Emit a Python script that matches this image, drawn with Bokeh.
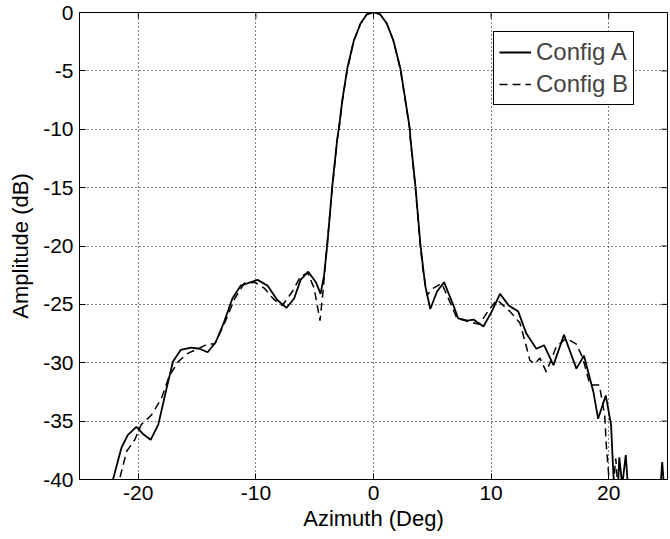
import math
from bokeh.plotting import figure
from bokeh.models import FixedTicker, Legend, LegendItem, Range1d
from bokeh.embed import file_html
from bokeh.resources import INLINE

# ---- data ----
az_a = [-22.5, -22.15, -21.44, -20.9, -20.17, -19.6, -18.95, -18.3, -17.6, -17.05, -16.4,
        -15.5, -14.8, -14.1, -13.4, -12.7, -12.0, -11.3, -9.86, -9.0, -8.2, -7.4, -6.75,
        -6.2, -5.55, -4.9, -4.5, -4.2, -3.92, -3.5, -3.08, -2.94, -2.65, -2.23, -1.67, -1.1,
        -0.56, 0.0, 0.56, 1.13, 1.69, 2.29, 2.71, 3.08, 3.14, 3.56, 3.98, 4.4, 4.83, 5.4,
        6.0, 6.8, 7.2, 8.0, 8.5, 9.35, 10.06, 10.76, 11.5, 12.3, 13.0, 13.85, 14.5, 15.3,
        16.2, 17.25, 17.9, 18.7, 19.1, 19.75, 20.2, 20.4, 20.6, 20.75, 20.9, 21.15, 21.45,
        21.7, 24.3, 24.55, 24.8]
amp_a = [-43, -40, -37.3, -36.2, -35.5, -36.1, -36.6, -35.3, -32.2, -29.9, -28.9,
         -28.7, -28.8, -29.1, -28.2, -26.5, -24.5, -23.4, -22.9, -23.4, -24.6, -25.3, -24.5,
         -22.9, -22.2, -23.1, -24.1, -22.5, -19.8, -14.8, -10.8, -9.9, -7.5, -4.8, -2.4, -0.94,
         -0.15, 0.0, -0.15, -0.94, -2.4, -4.8, -7.5, -9.9, -10.8, -14.8, -19.8, -23.4, -25.4, -23.9,
         -23.1, -25.1, -26.2, -26.4, -26.3, -26.9, -25.6, -24.1, -25.1, -25.6, -27.5, -28.8, -28.5, -30.2,
         -27.6, -30.5, -29.4, -32.5, -34.8, -32.8, -35.3, -39.6, -42.0, -41.5, -38.1, -40.5, -37.9,
         -41.5, -42.0, -38.5, -42.0]

az_b = [-21.9, -21.6, -21.0, -20.3, -19.75, -18.9, -18.05, -17.35, -16.6, -15.8, -14.9,
        -14.1, -13.5, -12.7, -11.8, -11.0, -10.1, -9.3, -8.45, -7.75, -6.9, -6.2, -5.6, -5.05,
        -4.55, -4.3, -4.05, -3.5, -3.08, -2.94, -2.65, -2.23, -1.67, -1.1, -0.56, 0.0, 0.56,
        1.13, 1.69, 2.29, 2.71, 3.08, 3.14, 3.56, 3.98, 4.2, 4.55, 5.1, 5.8, 6.5, 7.1, 8.2,
        9.0, 9.8, 10.5, 11.6, 12.45, 12.97, 13.3, 13.7, 14.15, 14.7, 15.55, 16.4, 17.25, 17.8,
        18.4, 19.2, 19.66, 19.8, 20.0, 20.15, 20.4, 20.6, 20.8]
amp_b = [-42, -40, -37.6, -36.6, -35.3, -34.5, -33.1, -31.1, -29.9, -29.2, -28.8,
         -28.4, -28.4, -26.7, -24.5, -23.2, -23.1, -23.6, -24.6, -25.1, -23.9, -22.6, -22.3, -23.6,
         -26.4, -24.0, -21.0, -15.0, -10.9, -10.0, -7.6, -4.9, -2.4, -0.95, -0.15, 0.0, -0.15,
         -0.95, -2.4, -4.9, -7.6, -10.0, -10.9, -15.0, -20.0, -22.0, -24.2, -23.6, -23.2, -24.8, -26.2, -26.5,
         -26.7, -25.5, -24.6, -25.6, -26.6, -28.5, -29.8, -30.1, -29.6, -30.8, -28.6, -27.9, -28.4, -29.6,
         -31.9, -31.9, -34.5, -37.1, -39.6, -42.0, -40.5, -38.2, -41.0]

x_ticks = [-20, -10, 0, 10, 20]
x_tick_labels = ["-20", "-10", "0", "10", "20"]
y_ticks = [-40, -35, -30, -25, -20, -15, -10, -5, 0]
y_tick_labels = ["-40", "-35", "-30", "-25", "-20", "-15", "-10", "-5", "0"]
label_a = "Config A"
label_b = "Config B"
x_title = "Azimuth (Deg)"
y_title = "Amplitude (dB)"
X_MIN, X_MAX = -25, 25
Y_MIN, Y_MAX = -40, 0

FONT = "Liberation Sans"

p = figure(frame_width=588, frame_height=467, output_backend="svg", toolbar_location=None,
           x_range=Range1d(X_MIN, X_MAX), y_range=Range1d(Y_MIN, Y_MAX),
           min_border_left=79, min_border_top=12, min_border_right=2, min_border_bottom=10)
p.background_fill_color = "white"
p.outline_line_color = "black"
p.outline_line_width = 1
p.outline_line_alpha = 1

ra = p.line(az_a, amp_a, line_color="black", line_width=1.8)
rb = p.line(az_b, amp_b, line_color="black", line_width=1.5, line_dash="8 5")

for ax, ticks, labels in ((p.xaxis[0], x_ticks, x_tick_labels), (p.yaxis[0], y_ticks, y_tick_labels)):
    ax.ticker = FixedTicker(ticks=ticks)
    ax.major_label_overrides = {t: s for t, s in zip(ticks, labels)}
    ax.major_tick_in = 6
    ax.major_tick_out = 0
    ax.minor_tick_line_color = None
    ax.axis_line_color = "black"
    ax.major_tick_line_color = "black"
    ax.major_label_text_font = FONT
    ax.major_label_text_font_size = "21px"
    ax.major_label_text_color = "black"
    ax.axis_label_text_font = FONT
    ax.axis_label_text_font_size = "22px"
    ax.axis_label_text_font_style = "normal"
    ax.axis_label_text_color = "black"
    ax.major_label_standoff = 6

p.xaxis.axis_label = x_title
p.yaxis.axis_label = y_title
p.xaxis.axis_label_standoff = 3
p.yaxis.axis_label_standoff = 7

# mirrored tick marks on the right and top edges (half of each dash is clipped by the frame)
p.scatter([X_MAX] * len(y_ticks), y_ticks, marker="dash", size=12,
          line_color="black", line_width=1)
p.scatter(x_ticks, [Y_MAX] * len(x_ticks), marker="dash", size=12, angle=math.pi / 2,
          line_color="black", line_width=1)

for g in (p.xgrid[0], p.ygrid[0]):
    g.grid_line_color = "black"
    g.grid_line_dash = "1 3"
    g.grid_line_width = 1
    g.grid_line_alpha = 1
p.xgrid[0].ticker = FixedTicker(ticks=x_ticks)
p.ygrid[0].ticker = FixedTicker(ticks=y_ticks)

legend = Legend(items=[LegendItem(label=label_a, renderers=[ra]),
                       LegendItem(label=label_b, renderers=[rb])],
                location=(414, 374))
legend.border_line_color = "black"
legend.border_line_width = 1
legend.border_line_alpha = 1
legend.background_fill_color = "white"
legend.background_fill_alpha = 1
legend.label_text_font = FONT
legend.label_text_font_size = "24px"
legend.glyph_width = 32
legend.glyph_height = 30
legend.label_height = 30
legend.label_standoff = 5
legend.spacing = 2
legend.padding = 5
legend.margin = 0
p.add_layout(legend, "center")

open("out.html", "w").write(file_html(p, INLINE))
